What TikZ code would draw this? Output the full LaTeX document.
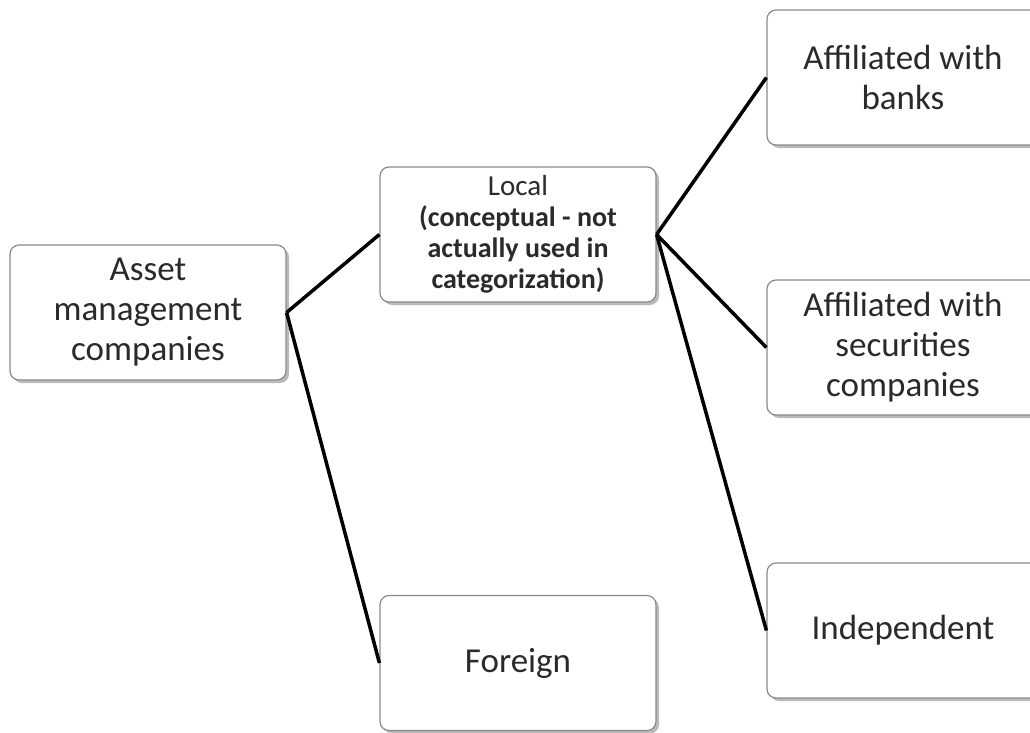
\documentclass[tikz,border=0pt]{standalone}
\usepackage{fontspec}
\setmainfont{Carlito}
\usetikzlibrary{shadows}
\definecolor{boxline}{HTML}{8A8A8A}
\definecolor{txt}{HTML}{2A2A2A}
\tikzset{
  box/.style={draw=boxline, line width=1.2pt, fill=white, rounded corners=9pt,
    minimum width=276pt, minimum height=135pt, inner sep=0pt, align=center,
    text=txt, font=\fontsize{35}{40}\selectfont,
    drop shadow={shadow xshift=3pt, shadow yshift=-3pt, fill=black!45, opacity=0.6}},
  smallbold/.style={font=\fontsize{28}{31}\selectfont\bfseries},
  conn/.style={line width=3.5pt, black}
}
\begin{document}
\begin{tikzpicture}[x=1pt,y=-1pt]
\useasboundingbox (0,0) rectangle (1030,732);
\clip (0,0) rectangle (1030,732);
\node[box] (asset) at (148,312.5) {Asset\\management\\companies};
\node[box, smallbold] (local) at (518,234.5) {{\mdseries\fontsize{29}{31}\selectfont Local}\\
  (conceptual - not\\actually used in\\categorization)};
\node[box] (foreign) at (518,663) {Foreign};
\node[box, minimum width=272pt] (banks) at (903,77.5) {Affiliated with\\banks};
\node[box, minimum width=272pt] (secur) at (903,347.5) {Affiliated with\\securities\\companies};
\node[box, minimum width=272pt] (indep) at (903,630.5) {Independent};
\draw[conn] (asset.east) -- (local.west);
\draw[conn] (asset.east) -- (foreign.west);
\draw[conn] (local.east) -- (banks.west);
\draw[conn] (local.east) -- (secur.west);
\draw[conn] (local.east) -- (indep.west);
\end{tikzpicture}
\end{document}
